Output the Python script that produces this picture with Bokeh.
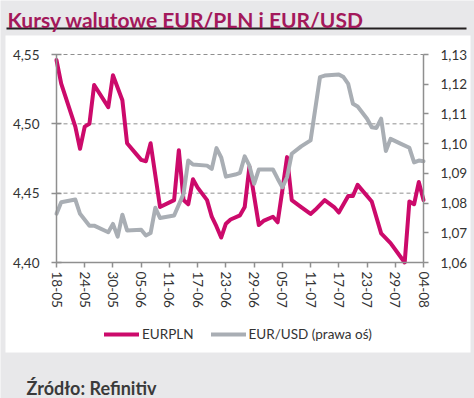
import pandas as pd
from bokeh.plotting import figure
from bokeh.models import (Range1d, LinearAxis, FixedTicker, CustomJSTickFormatter,
                          Legend, LegendItem, Label, BoxAnnotation, ColumnDataSource)
from bokeh.embed import file_html
from bokeh.resources import INLINE

title_text = "Kursy walutowe EUR/PLN i EUR/USD"
source_text = "Źródło: Refinitiv"
series_names = ["EURPLN", "EUR/USD (prawa oś)"]

eurpln_dates = [
    "2020-05-18", "2020-05-19", "2020-05-22", "2020-05-23", "2020-05-24", "2020-05-25",
    "2020-05-26", "2020-05-29", "2020-05-30", "2020-05-31", "2020-06-01", "2020-06-02",
    "2020-06-04", "2020-06-05", "2020-06-06", "2020-06-07", "2020-06-09", "2020-06-12",
    "2020-06-13", "2020-06-14", "2020-06-15", "2020-06-16", "2020-06-17", "2020-06-19",
    "2020-06-20", "2020-06-21", "2020-06-22", "2020-06-23", "2020-06-24", "2020-06-26",
    "2020-06-27", "2020-06-28", "2020-06-30", "2020-07-01", "2020-07-03", "2020-07-04",
    "2020-07-05", "2020-07-06", "2020-07-07", "2020-07-09", "2020-07-11", "2020-07-12",
    "2020-07-14", "2020-07-16", "2020-07-17", "2020-07-19", "2020-07-20", "2020-07-21",
    "2020-07-24", "2020-07-26", "2020-07-28", "2020-07-31", "2020-08-01", "2020-08-02",
    "2020-08-03", "2020-08-04",
]
eurpln_values = [
    4.546, 4.529, 4.498, 4.482, 4.498, 4.500,
    4.528, 4.512, 4.535, 4.526, 4.517, 4.486,
    4.478, 4.474, 4.473, 4.486, 4.440, 4.445,
    4.481, 4.445, 4.442, 4.460, 4.454, 4.445,
    4.433, 4.426, 4.418, 4.428, 4.431, 4.434,
    4.440, 4.469, 4.427, 4.430, 4.433, 4.429,
    4.452, 4.476, 4.445, 4.440, 4.435, 4.438,
    4.445, 4.440, 4.436, 4.448, 4.448, 4.456,
    4.444, 4.421, 4.414, 4.400, 4.444, 4.442,
    4.458, 4.445,
]

eurusd_dates = [
    "2020-05-18", "2020-05-19", "2020-05-22", "2020-05-23", "2020-05-25", "2020-05-26",
    "2020-05-29", "2020-05-30", "2020-05-31", "2020-06-01", "2020-06-02", "2020-06-05",
    "2020-06-06", "2020-06-07", "2020-06-08", "2020-06-09", "2020-06-12", "2020-06-14",
    "2020-06-15", "2020-06-16", "2020-06-19", "2020-06-20", "2020-06-21", "2020-06-22",
    "2020-06-23", "2020-06-25", "2020-06-26", "2020-06-27", "2020-06-28", "2020-06-29",
    "2020-06-30", "2020-07-03", "2020-07-04", "2020-07-05", "2020-07-06", "2020-07-07",
    "2020-07-09", "2020-07-11", "2020-07-13", "2020-07-14", "2020-07-17", "2020-07-18",
    "2020-07-19", "2020-07-20", "2020-07-21", "2020-07-23", "2020-07-24", "2020-07-25",
    "2020-07-26", "2020-07-27", "2020-07-28", "2020-07-30", "2020-08-01", "2020-08-02",
    "2020-08-03", "2020-08-04",
]
eurusd_values = [
    1.0764, 1.0803, 1.0812, 1.0764, 1.0724, 1.0724,
    1.0702, 1.0730, 1.0687, 1.0761, 1.0708, 1.0710,
    1.0691, 1.0699, 1.0784, 1.0750, 1.0758, 1.0831,
    1.0943, 1.0930, 1.0926, 1.0915, 1.0985, 1.0954,
    1.0889, 1.0896, 1.0902, 1.0957, 1.0926, 1.0865,
    1.0913, 1.0913, 1.0882, 1.0853, 1.0887, 1.0966,
    1.0991, 1.1011, 1.1224, 1.1229, 1.1233, 1.1224,
    1.1201, 1.1134, 1.1125, 1.1084, 1.1055, 1.1053,
    1.1084, 1.0975, 1.1016, 1.1001, 1.0986, 1.0937,
    1.0943, 1.0941,
]

tick_year = 2020
x_tick_labels = ["18-05", "24-05", "30-05", "05-06", "11-06", "17-06", "23-06",
                 "29-06", "05-07", "11-07", "17-07", "23-07", "29-07", "04-08"]
left_ticks = [4.40, 4.45, 4.50, 4.55]
right_ticks = [1.06, 1.07, 1.08, 1.09, 1.10, 1.11, 1.12, 1.13]

# ---- styling / layout (pixels on the canvas) ----
BAND = "#e8e8ea"
PINK = "#cc0a6b"
GREY = "#a9aeb4"
AXIS = "#8f8f8f"
TEXT = "#333333"
FONT = "Lato"
W, H = 474, 398
PLOT_L, PLOT_R, PLOT_T, PLOT_B = 56, 423, 54, 262   # plot area edges

tick_dates = [pd.Timestamp(f"{tick_year}-{lab[3:5]}-{lab[0:2]}") for lab in x_tick_labels]
tick_ms = [float(t.value // 10**6) for t in tick_dates]


def extend(lo, hi, px_lo, px_hi, px_len):
    """range whose [lo, hi] occupies pixels [px_lo, px_hi] of a px_len long canvas side"""
    per_px = (hi - lo) / (px_hi - px_lo)
    return lo - px_lo * per_px, hi + (px_len - px_hi) * per_px


x0, x1 = extend(tick_ms[0], tick_ms[-1], PLOT_L, PLOT_R, W)
yl0, yl1 = extend(left_ticks[0], left_ticks[-1], H - PLOT_B, H - PLOT_T, H)
yr0, yr1 = extend(right_ticks[0], right_ticks[-1], H - PLOT_B, H - PLOT_T, H)

src_pln = ColumnDataSource(data=dict(x=pd.to_datetime(eurpln_dates), y=eurpln_values))
src_usd = ColumnDataSource(data=dict(x=pd.to_datetime(eurusd_dates), y=eurusd_values))

comma_fmt = CustomJSTickFormatter(code="return tick.toFixed(2).replace('.', ',');")
date_fmt = CustomJSTickFormatter(code="""
const d = new Date(tick);
const dd = String(d.getUTCDate()).padStart(2, '0');
const mm = String(d.getUTCMonth() + 1).padStart(2, '0');
return dd + '-' + mm;
""")

p = figure(width=W, height=H, x_axis_type="datetime",
           x_range=Range1d(x0, x1), y_range=Range1d(yl0, yl1),
           output_backend="svg", toolbar_location=None, min_border=0,
           background_fill_color=BAND, border_fill_color=BAND, outline_line_color=None)
p.extra_y_ranges = {"usd": Range1d(yr0, yr1)}
p.grid.visible = False

# white chart panel and the dark rule under the title
p.add_layout(BoxAnnotation(left=5, right=470, top=35, bottom=352,
                           left_units="canvas", right_units="canvas",
                           top_units="canvas", bottom_units="canvas",
                           fill_color="white", fill_alpha=1, line_color=None, level="underlay"))
p.add_layout(BoxAnnotation(left=6, right=466, top=27, bottom=29,
                           left_units="canvas", right_units="canvas",
                           top_units="canvas", bottom_units="canvas",
                           fill_color="#231f20", fill_alpha=1, line_color=None, level="underlay"))

p.add_layout(Label(x=7, y=18.5, x_units="canvas", y_units="canvas", text=title_text,
                   text_font=FONT, text_font_style="bold", text_font_size="21px",
                   text_color="#a3195b", text_baseline="alphabetic"))
p.add_layout(Label(x=26, y=387, x_units="canvas", y_units="canvas", text=source_text,
                   text_font=FONT, text_font_style="bold", text_font_size="18px",
                   text_color="#3a3a3a", text_baseline="alphabetic"))

# dashed horizontal gridlines at the left-axis ticks
grid_ticks = left_ticks[1:]
p.segment(x0=[tick_ms[0]] * len(grid_ticks), x1=[tick_ms[-1]] * len(grid_ticks),
          y0=grid_ticks, y1=grid_ticks, line_color=AXIS, line_width=1, line_dash="4 3")

xa = p.xaxis[0]
xa.fixed_location = left_ticks[0]
xa.bounds = (tick_ms[0], tick_ms[-1])
xa.ticker = FixedTicker(ticks=tick_ms)
xa.formatter = date_fmt
xa.major_label_orientation = "vertical"
xa.major_tick_in = 0
xa.major_tick_out = 5
xa.minor_tick_line_color = None
xa.major_label_standoff = 4

ya = p.yaxis[0]
ya.fixed_location = tick_ms[0]
ya.bounds = (left_ticks[0], left_ticks[-1])
ya.ticker = FixedTicker(ticks=left_ticks)
ya.formatter = comma_fmt
ya.major_tick_in = 5
ya.major_tick_out = 5
ya.minor_tick_line_color = None
ya.major_label_standoff = 12

ra = LinearAxis(y_range_name="usd", ticker=FixedTicker(ticks=right_ticks), formatter=comma_fmt)
ra.fixed_location = tick_ms[-1]
ra.bounds = (right_ticks[0], right_ticks[-1])
ra.major_tick_in = 0
ra.major_tick_out = 5
ra.minor_tick_line_color = None
ra.major_label_standoff = 12
p.add_layout(ra, "right")

for ax in (xa, ya, ra):
    ax.axis_line_color = AXIS
    ax.axis_line_width = 1.5
    ax.major_tick_line_color = AXIS
    ax.major_tick_line_width = 1.5
    ax.major_label_text_font = FONT
    ax.major_label_text_font_size = "13.5px"
    ax.major_label_text_color = TEXT

r_pln = p.line("x", "y", source=src_pln, line_color=PINK, line_width=4,
               line_join="round", line_cap="round")
r_usd = p.line("x", "y", source=src_usd, y_range_name="usd", line_color=GREY, line_width=4,
               line_join="round", line_cap="round")

legend = Legend(items=[LegendItem(label=series_names[0], renderers=[r_pln]),
                       LegendItem(label=series_names[1], renderers=[r_usd])],
                orientation="horizontal", location=(104, 56),
                glyph_width=35, glyph_height=14, label_standoff=3, spacing=17,
                label_text_font=FONT, label_text_font_size="13.5px", label_text_color=TEXT,
                border_line_color=None, background_fill_alpha=0, padding=4, margin=0)
p.add_layout(legend)

open("out.html", "w").write(file_html(p, INLINE))
